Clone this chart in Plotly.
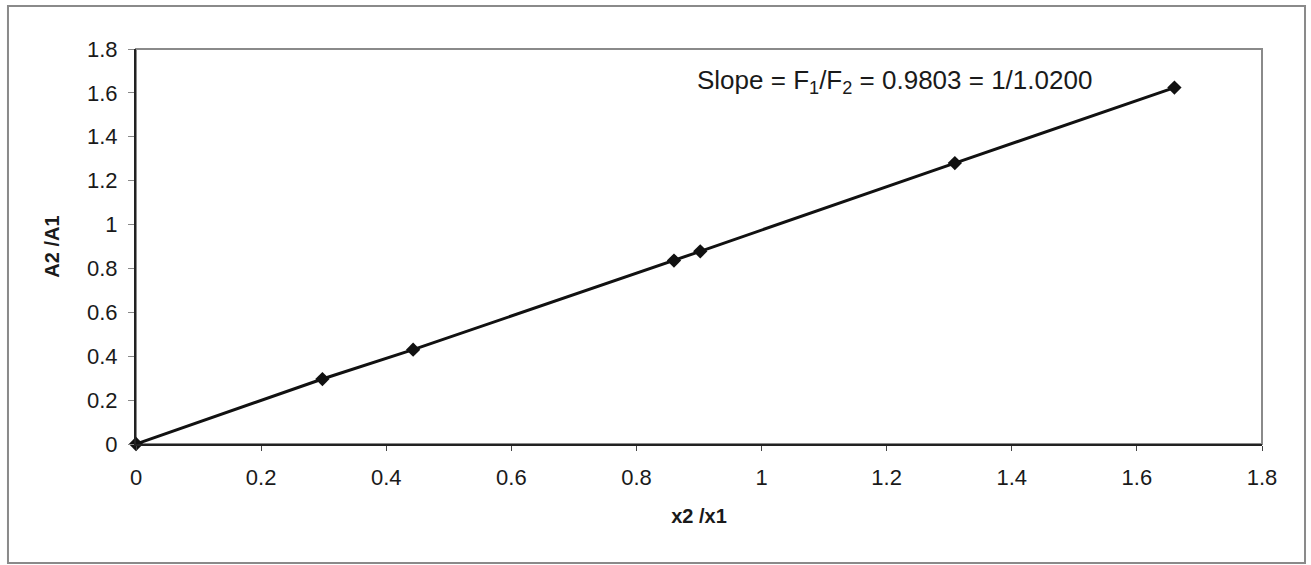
import plotly.graph_objects as go

# Measured ratios: mole-fraction ratio vs. peak-area ratio
x_ratio = [0, 0.298, 0.443, 0.860, 0.902, 1.309, 1.660]
a_ratio = [0, 0.296, 0.430, 0.836, 0.878, 1.280, 1.624]

x_ticks = [0, 0.2, 0.4, 0.6, 0.8, 1, 1.2, 1.4, 1.6, 1.8]
y_ticks = [0, 0.2, 0.4, 0.6, 0.8, 1, 1.2, 1.4, 1.6, 1.8]

slope_text = "Slope = F<sub>1</sub>/F<sub>2</sub> = 0.9803 = 1/1.0200"

FONT = "Liberation Sans, Arial, Helvetica, sans-serif"

fig = go.Figure()
fig.add_trace(go.Scatter(
    x=x_ratio, y=a_ratio,
    mode="lines+markers",
    line=dict(color="#111111", width=3),
    marker=dict(symbol="diamond", size=11, color="#111111"),
    showlegend=False,
    cliponaxis=False,
))

fig.update_layout(
    width=1311, height=565,
    margin=dict(l=136, r=49, t=49, b=121),
    paper_bgcolor="white", plot_bgcolor="white",
    font=dict(family=FONT, size=22, color="#1a1a1a"),
    xaxis=dict(
        range=[0, 1.8], tickvals=x_ticks,
        ticktext=[f"{v:g}" for v in x_ticks],
        showgrid=False, zeroline=False,
        showline=True, linecolor="#222222", linewidth=2,
        ticks="outside", ticklen=5, tickcolor="#444444", tickwidth=1,
        ticklabelstandoff=8,
        title=dict(text="<b>x2 /x1</b>", standoff=20, font=dict(size=20)),
    ),
    yaxis=dict(
        range=[0, 1.8], tickvals=y_ticks,
        ticktext=[f"{v:g}" for v in y_ticks],
        showgrid=False, zeroline=False,
        showline=True, linecolor="#222222", linewidth=2,
        ticks="outside", ticklen=6, tickcolor="#888888", tickwidth=1,
        ticklabelstandoff=6,
        title=dict(text="<b>A2 /A1</b>", standoff=22, font=dict(size=20)),
    ),
    annotations=[dict(
        x=0.894, y=1.65, xref="x", yref="y",
        text=slope_text, showarrow=False,
        xanchor="left", yanchor="middle",
        font=dict(size=26, color="#1a1a1a"),
    )],
    shapes=[
        # plot-area border (top and right edges visible in gray)
        dict(type="rect", xref="paper", yref="paper", x0=0, y0=0, x1=1, y1=1,
             line=dict(color="#8a8a8a", width=2), layer="below"),
        # outer chart frame
        dict(type="rect", xref="paper", yref="paper",
             x0=-0.1137, y0=-0.301, x1=1.0382, y1=1.1089,
             line=dict(color="#8a8a8a", width=2), layer="below"),
    ],
)

fig.write_html("out.html")
